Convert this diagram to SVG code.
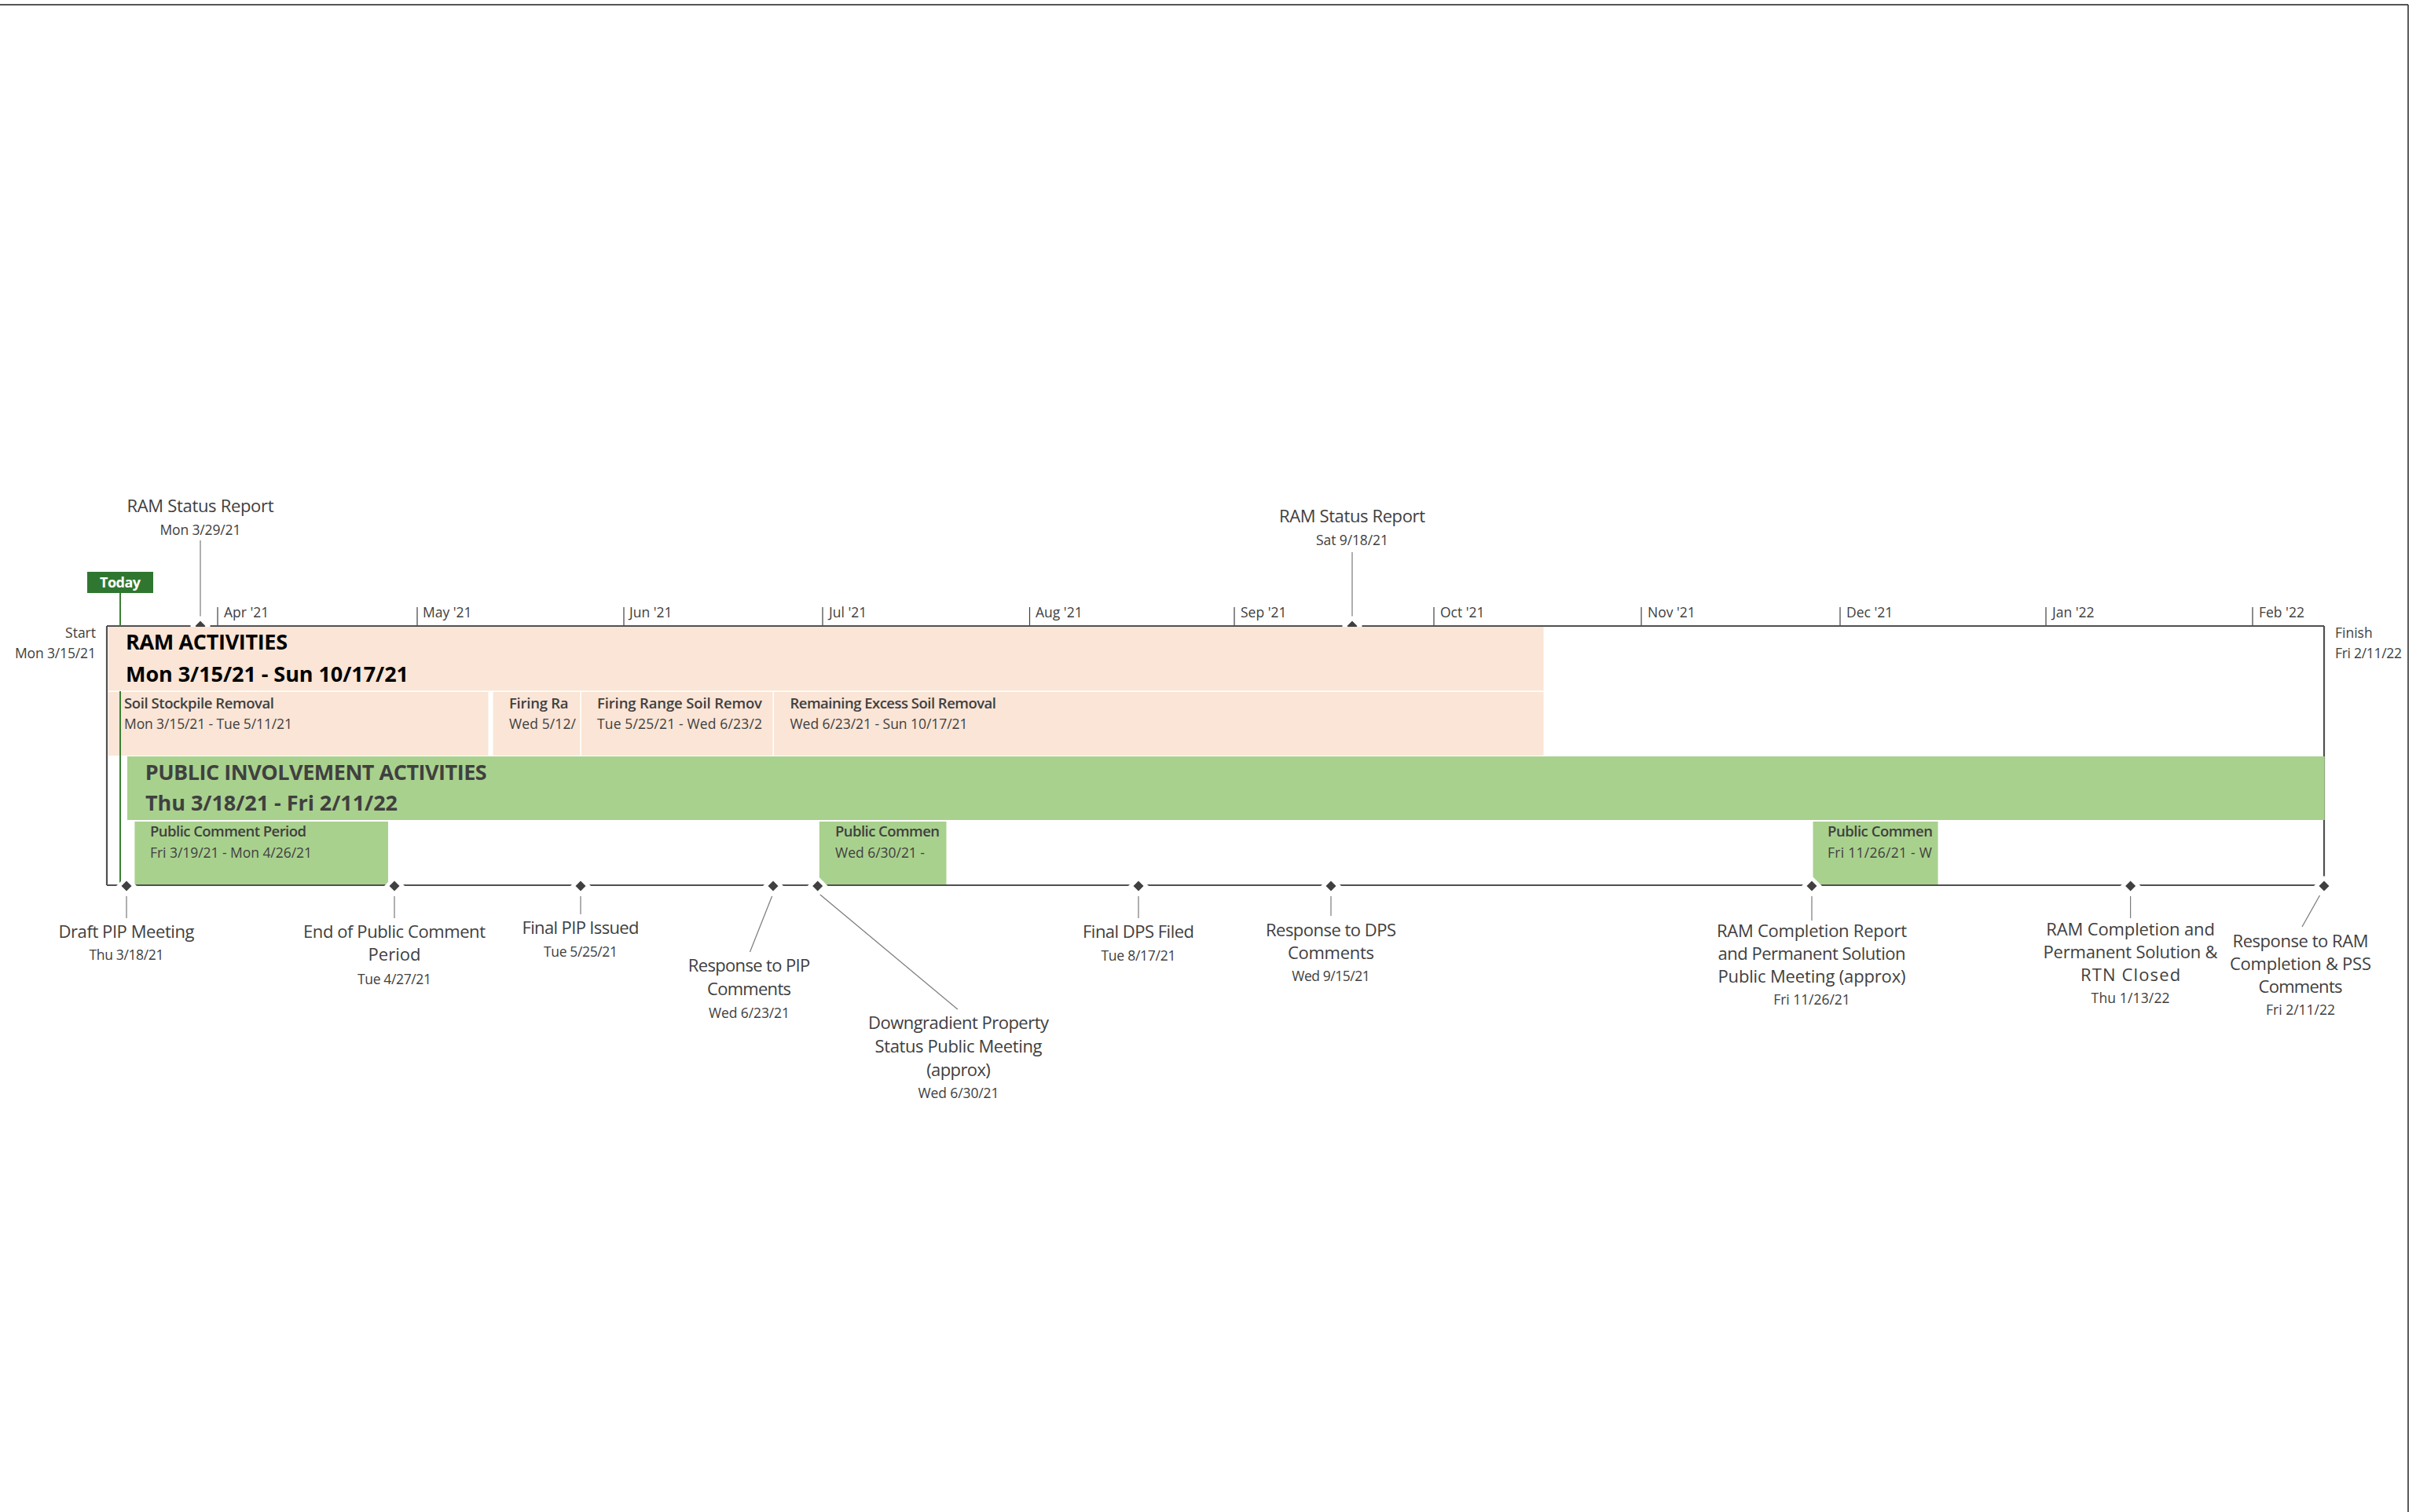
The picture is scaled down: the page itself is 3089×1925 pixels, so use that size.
<svg xmlns="http://www.w3.org/2000/svg" width="3089" height="1925" viewBox="0 0 3089 1925">
<style>
text{font-family:"Segoe UI","Open Sans","Noto Sans",sans-serif;fill:#404040}
.lbl{font-size:22px;text-anchor:middle}
.dt{font-size:17.5px;text-anchor:middle}
.mo{font-size:17.5px}
.ttl{font-size:27px;font-weight:700}
.sub{font-size:18.5px;font-weight:600}
.sd{font-size:17.5px}
.lead{stroke:#7a7a7a;stroke-width:1.2;fill:none}
.tick{stroke:#404040;stroke-width:1.2}
.axis{stroke:#505050;stroke-width:2.2;fill:none}
</style>
<defs>
<g id="ms"><path d="M0,-13 L13,0 L0,13 L-13,0 Z" fill="#fff"/><path d="M0,-6.5 L6.5,0 L0,6.5 L-6.5,0 Z" fill="#404040"/></g>
</defs>
<rect width="3089" height="1925" fill="#fff"/>
<g id="frame">
<line x1="0" y1="6" x2="3065" y2="6" stroke="#555" stroke-width="2"/>
<line x1="3065" y1="6" x2="3065" y2="1925" stroke="#222" stroke-width="1.5"/>
</g>
<g id="timeline">
<line class="axis" x1="136" y1="797" x2="2958" y2="797"/>
<line class="axis" x1="136" y1="797" x2="136" y2="1127"/>
<line class="axis" x1="2958" y1="797" x2="2958" y2="1127"/>
<line class="tick" x1="277" y1="773" x2="277" y2="796"/>
<line class="tick" x1="531" y1="773" x2="531" y2="796"/>
<line class="tick" x1="794" y1="773" x2="794" y2="796"/>
<line class="tick" x1="1047" y1="773" x2="1047" y2="796"/>
<line class="tick" x1="1310.5" y1="773" x2="1310.5" y2="796"/>
<line class="tick" x1="1571" y1="773" x2="1571" y2="796"/>
<line class="tick" x1="1825" y1="773" x2="1825" y2="796"/>
<line class="tick" x1="2089" y1="773" x2="2089" y2="796"/>
<line class="tick" x1="2342" y1="773" x2="2342" y2="796"/>
<line class="tick" x1="2604" y1="773" x2="2604" y2="796"/>
<line class="tick" x1="2867" y1="773" x2="2867" y2="796"/>
<text class="mo" x="285" y="786">Apr '21</text>
<text class="mo" x="538" y="786">May '21</text>
<text class="mo" x="801" y="786">Jun '21</text>
<text class="mo" x="1055" y="786">Jul '21</text>
<text class="mo" x="1318" y="786">Aug '21</text>
<text class="mo" x="1579" y="786">Sep '21</text>
<text class="mo" x="1833" y="786">Oct '21</text>
<text class="mo" x="2097" y="786">Nov '21</text>
<text class="mo" x="2350" y="786">Dec '21</text>
<text class="mo" x="2612" y="786">Jan '22</text>
<text class="mo" x="2875" y="786">Feb '22</text>
<text class="sd" x="122" y="812" text-anchor="end">Start</text>
<text class="sd" x="122" y="838" text-anchor="end" textLength="103">Mon 3/15/21</text>
<text class="sd" x="2972" y="812">Finish</text>
<text class="sd" x="2972" y="838" textLength="85">Fri 2/11/22</text>
</g>
<g id="connectors">
<line class="lead" x1="255" y1="688" x2="255" y2="790"/>
<line class="lead" x1="1721" y1="703" x2="1721" y2="790"/>
<line class="lead" x1="161" y1="1141" x2="161" y2="1169"/>
<line class="lead" x1="502" y1="1141" x2="502" y2="1169"/>
<line class="lead" x1="739" y1="1141" x2="739" y2="1164"/>
<line class="lead" x1="982.6" y1="1141" x2="954.5" y2="1212"/>
<line class="lead" x1="1043.8" y1="1139" x2="1218.8" y2="1285"/>
<line class="lead" x1="1449" y1="1141" x2="1449" y2="1169"/>
<line class="lead" x1="1694" y1="1141" x2="1694" y2="1166"/>
<line class="lead" x1="2306" y1="1141" x2="2306" y2="1172"/>
<line class="lead" x1="2711.6" y1="1141" x2="2711.6" y2="1169"/>
<line class="lead" x1="2952.5" y1="1140" x2="2930" y2="1180"/>
</g>
<g id="ms-status-1"><use href="#ms" x="255" y="797"/>
<text class="lbl" x="255" y="652" textLength="187">RAM Status Report</text>
<text class="dt" x="255" y="681" textLength="103">Mon 3/29/21</text></g>
<g id="ms-status-2"><use href="#ms" x="1721" y="797"/>
<text class="lbl" x="1721" y="665" textLength="186">RAM Status Report</text>
<text class="dt" x="1721" y="694" textLength="92">Sat 9/18/21</text></g>
<g id="today">
<rect x="111" y="728" width="84" height="27" fill="#2f7730"/>
<text x="153" y="748" text-anchor="middle" style="font-size:18px;font-weight:700;fill:#fff" textLength="52">Today</text>
<line x1="153" y1="755" x2="153" y2="797" stroke="#3b7f33" stroke-width="2"/>
</g>
<g id="ram-activities">
<rect x="138" y="798" width="1826.6" height="164" fill="#fae5d6"/>
<rect x="138" y="879.3" width="1826.6" height="1.6" fill="#fff"/>
<rect x="621.4" y="880" width="6.2" height="82" fill="#fff"/>
<rect x="738.3" y="880" width="1.6" height="82" fill="#fff"/>
<rect x="983.5" y="880" width="1.6" height="82" fill="#fff"/>
<text class="ttl" x="160" y="827" style="fill:#000" textLength="206">RAM ACTIVITIES</text>
<text class="ttl" x="160" y="868" style="fill:#000" textLength="360">Mon 3/15/21 - Sun 10/17/21</text>
</g>
<g id="task-soil-stockpile">
<text class="sub" x="158" y="902" textLength="191">Soil Stockpile Removal</text>
<text class="sd" x="158" y="928" textLength="214">Mon 3/15/21 - Tue 5/11/21</text>
</g>
<g id="task-firing-ra">
<text class="sub" x="648" y="902" textLength="75.5">Firing Ra</text>
<text class="sd" x="648" y="928" textLength="85">Wed 5/12/</text>
</g>
<g id="task-firing-range">
<text class="sub" x="760" y="902" textLength="210">Firing  Range  Soil Remov</text>
<text class="sd" x="760" y="928" textLength="210">Tue 5/25/21 - Wed 6/23/2</text>
</g>
<g id="task-remaining">
<text class="sub" x="1005.5" y="902" textLength="262.5">Remaining Excess Soil Removal</text>
<text class="sd" x="1005.5" y="928" textLength="226">Wed 6/23/21 - Sun 10/17/21</text>
</g>
<line x1="153" y1="880" x2="153" y2="1127" stroke="#3b7f33" stroke-width="2"/>
<g id="public-involvement">
<rect x="162" y="963" width="2796.7" height="81" fill="#a9d18e"/>
<text class="ttl" x="184.7" y="992.7" textLength="435">PUBLIC INVOLVEMENT ACTIVITIES</text>
<text class="ttl" x="185" y="1032" textLength="321">Thu 3/18/21 - Fri 2/11/22</text>
</g>
<g id="task-pc-1">
<rect x="171.4" y="1046" width="322.6" height="81" fill="#a9d18e"/>
<text class="sub" x="191" y="1065" textLength="199">Public Comment Period</text>
<text class="sd" x="191" y="1091.7" textLength="206">Fri 3/19/21 - Mon 4/26/21</text>
</g>
<g id="task-pc-2">
<rect x="1042.8" y="1046" width="161.7" height="81" fill="#a9d18e"/>
<text class="sub" x="1063" y="1065" textLength="133">Public Commen</text>
<text class="sd" x="1063" y="1091.7" textLength="114">Wed 6/30/21 -</text>
</g>
<g id="task-pc-3">
<rect x="2307.5" y="1046" width="159.1" height="81" fill="#a9d18e"/>
<text class="sub" x="2326" y="1065" textLength="134">Public Commen</text>
<text class="sd" x="2326" y="1091.7" textLength="133">Fri 11/26/21 - W</text>
</g>
<line class="axis" x1="136" y1="1127" x2="2958" y2="1127" stroke-width="2.6"/>
<g id="ms-draft-pip"><use href="#ms" x="161" y="1128"/>
<text class="lbl" x="161" y="1194" textLength="173">Draft PIP Meeting</text>
<text class="dt" x="161" y="1222" textLength="95">Thu 3/18/21</text></g>
<g id="ms-end-pc"><use href="#ms" x="502" y="1128"/>
<text class="lbl" x="502" y="1194" textLength="232">End of Public Comment</text>
<text class="lbl" x="502" y="1223">Period</text>
<text class="dt" x="502" y="1253" textLength="94">Tue 4/27/21</text></g>
<g id="ms-final-pip"><use href="#ms" x="739" y="1128"/>
<text class="lbl" x="739" y="1189" textLength="149">Final PIP Issued</text>
<text class="dt" x="739" y="1218" textLength="94">Tue 5/25/21</text></g>
<g id="ms-resp-pip"><use href="#ms" x="984" y="1128"/>
<text class="lbl" x="953.5" y="1237" textLength="155.5">Response to PIP</text>
<text class="lbl" x="953.5" y="1267" textLength="107">Comments</text>
<text class="dt" x="953.5" y="1296" textLength="103">Wed 6/23/21</text></g>
<g id="ms-downgradient"><use href="#ms" x="1040.7" y="1128"/>
<text class="lbl" x="1220" y="1310" textLength="230">Downgradient Property</text>
<text class="lbl" x="1220" y="1340" textLength="213">Status Public Meeting</text>
<text class="lbl" x="1220" y="1370" textLength="81.6">(approx)</text>
<text class="dt" x="1220" y="1398" textLength="103">Wed 6/30/21</text></g>
<g id="ms-final-dps"><use href="#ms" x="1449" y="1128"/>
<text class="lbl" x="1449" y="1194" textLength="142">Final DPS Filed</text>
<text class="dt" x="1449" y="1223" textLength="95">Tue 8/17/21</text></g>
<g id="ms-resp-dps"><use href="#ms" x="1694" y="1128"/>
<text class="lbl" x="1694" y="1192" textLength="166">Response to DPS</text>
<text class="lbl" x="1694" y="1221" textLength="110">Comments</text>
<text class="dt" x="1694" y="1249" textLength="99.5">Wed 9/15/21</text></g>
<g id="ms-ram-report"><use href="#ms" x="2306" y="1128"/>
<text class="lbl" x="2306" y="1193" textLength="242">RAM Completion Report</text>
<text class="lbl" x="2306" y="1222" textLength="239">and Permanent Solution</text>
<text class="lbl" x="2306" y="1251" textLength="239">Public Meeting (approx)</text>
<text class="dt" x="2306" y="1279" textLength="97.5">Fri 11/26/21</text></g>
<g id="ms-ram-completion"><use href="#ms" x="2711.6" y="1128"/>
<text class="lbl" x="2711.6" y="1191" textLength="214.5">RAM Completion and</text>
<text class="lbl" x="2711.6" y="1220" textLength="222">Permanent Solution &amp;</text>
<text class="lbl" x="2711.6" y="1249" textLength="127">RTN Closed</text>
<text class="dt" x="2711.6" y="1277" textLength="100">Thu 1/13/22</text></g>
<g id="ms-resp-ram"><use href="#ms" x="2958" y="1128"/>
<text class="lbl" x="2928" y="1206" textLength="173">Response to RAM</text>
<text class="lbl" x="2928" y="1235" textLength="180">Completion &amp; PSS</text>
<text class="lbl" x="2928" y="1264" textLength="107">Comments</text>
<text class="dt" x="2928" y="1292" textLength="88">Fri 2/11/22</text></g>
</svg>
